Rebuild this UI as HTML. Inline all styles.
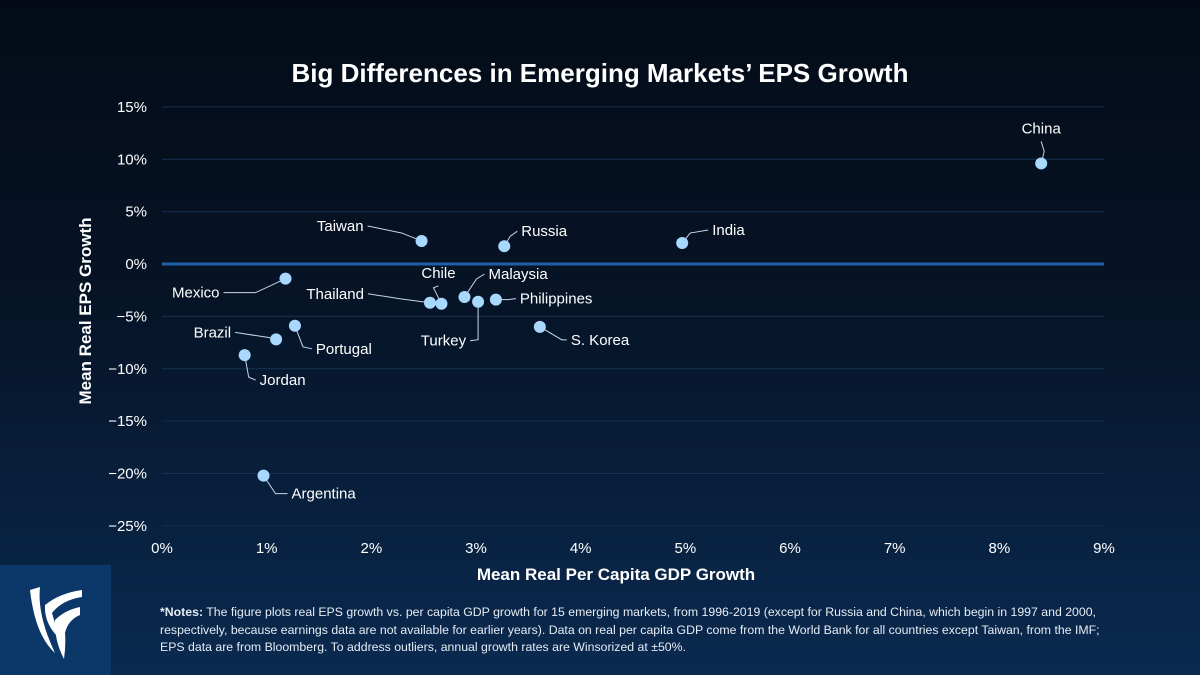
<!DOCTYPE html>
<html><head><meta charset="utf-8"><style>
html,body{margin:0;padding:0;width:1200px;height:675px;overflow:hidden;font-family:"Liberation Sans",sans-serif;}
body{background:linear-gradient(180deg,#040b17 0%,#061427 45%,#0a2a50 100%);position:relative;}
#logo{position:absolute;left:0;top:565px;width:111px;height:110px;background:#0b3868;}
.notes{position:absolute;left:160px;top:604px;width:948px;font-size:12.3px;line-height:17.5px;color:#e6ecf4;}
</style></head><body>
<svg id="chart" width="1200" height="675" style="position:absolute;left:0;top:0">
<text x="600" y="82" text-anchor="middle" fill="#fff" font-size="26" font-weight="bold">Big Differences in Emerging Markets’ EPS Growth</text>
<g id="grid"></g><g id="marks"></g>
<text x="616" y="580" text-anchor="middle" fill="#fff" font-size="17" font-weight="bold">Mean Real Per Capita GDP Growth</text>
<text transform="translate(91,311) rotate(-90)" text-anchor="middle" fill="#fff" font-size="17" font-weight="bold">Mean Real EPS Growth</text>
</svg>
<div id="logo">
<svg width="111" height="110" viewBox="0 0 111 110"><path d="M30 25 L40 22 Q37 50 55 88 Q35 70 30 25Z M45 40 Q60 28 82 25 L82 32 Q62 35 52 48 Q58 68 58 72 Q44 58 45 40Z M55 55 Q65 45 80 42 L80 50 Q68 55 65 68 Q66 80 64 94 Q54 75 55 55Z" fill="#fff"/></svg>
</div>
<div class="notes"><b>*Notes:</b> The figure plots real EPS growth vs. per capita GDP growth for 15 emerging markets, from 1996-2019 (except for Russia and China, which begin in 1997 and 2000, respectively, because earnings data are not available for earlier years). Data on real per capita GDP come from the World Bank for all countries except Taiwan, from the IMF; EPS data are from Bloomberg. To address outliers, annual growth rates are Winsorized at ±50%.</div>
<script>
const countries=["China","India","Russia","Taiwan","Mexico","Thailand","Chile","Malaysia","Turkey","Philippines","S. Korea","Portugal","Brazil","Jordan","Argentina"];
const gdpGrowth=[8.40,4.97,3.27,2.48,1.18,2.56,2.67,2.89,3.02,3.19,3.61,1.27,1.09,0.79,0.97];
const epsGrowth=[9.6,2.0,1.7,2.2,-1.4,-3.7,-3.8,-3.15,-3.6,-3.4,-6.0,-5.9,-7.2,-8.7,-20.2];
const xTicks=[0,1,2,3,4,5,6,7,8,9];
const yTicks=[15,10,5,0,-5,-10,-15,-20,-25];
const labelLayout=[[0,-30,"middle",3,-12],[30,-8,"start",8,-10],[17,-10,"start",6,-10],[-58,-10,"end",-20,-8],[-66,19,"end",-30,14],[-66,-4,"end",-30,-4],[-3,-26,"middle",-8,-16],[24,-18,"start",12,-18],[-12,44,"end",0,38],[24,4,"start",12,0],[31,18,"start",22,13],[21,28,"start",8,21],[-45,-2,"end",-8,-2],[15,30,"start",4,22],[28,23,"start",12,18]];
const X=v=>162+v*(1104-162)/9, Y=v=>264-v*(527-108)/40;
const ns="http://www.w3.org/2000/svg";
function mk(t,a,p){const e=document.createElementNS(ns,t);for(const k in a)e.setAttribute(k,a[k]);p.appendChild(e);return e;}
const g=document.getElementById("grid"),m=document.getElementById("marks");
yTicks.forEach(v=>{
 const l=mk("line",{x1:162,x2:1104,y1:Y(v),y2:Y(v),stroke:v===0?"#1f5fa8":"#16304f","stroke-width":v===0?3:1},g);
 
 
 const t=mk("text",{x:147,y:Y(v)+5,"text-anchor":"end",fill:"#fff","font-size":15},g);
 t.textContent=(v<0?"−"+(-v):v)+"%";
 
 
});
xTicks.forEach(v=>{
 const t=mk("text",{x:X(v),y:553,"text-anchor":"middle",fill:"#fff","font-size":15},g);
 t.textContent=v+"%";
 
 
});
countries.forEach((c,i)=>{
 const px=X(gdpGrowth[i]),py=Y(epsGrowth[i]),L=labelLayout[i];
 const ln=mk("polyline",{points:`${px},${py} ${px+L[3]},${py+L[4]} ${px+L[0]+(L[2]==="end"?4:L[2]==="start"?-4:0)},${py+L[1]-(L[2]==="middle"?-8:5)}`,fill:"none",stroke:"#c9d6e6","stroke-width":1},m);
 
 
 const d=mk("circle",{cx:px,cy:py,r:6,fill:"#a9d8ff"},m);
 
 
 const t=mk("text",{x:px+L[0],y:py+L[1],"text-anchor":L[2],fill:"#fff","font-size":15},m);
 t.textContent=c;
 
 
});
</script>
</body></html>
